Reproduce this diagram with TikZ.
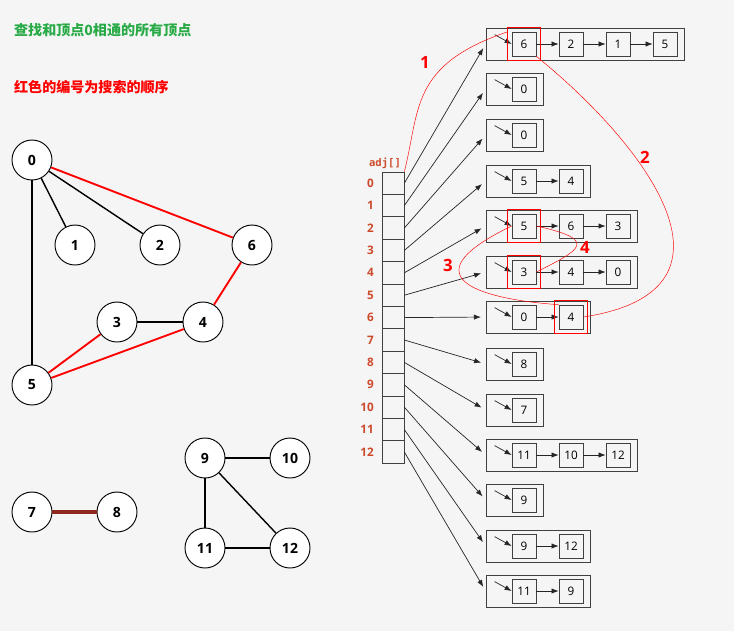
\documentclass[tikz,border=0pt]{standalone}
\usepackage{fontspec}
\setmainfont{Open Sans}
\newfontfamily\cjk{Noto Sans CJK SC}
\newfontfamily\mono{DejaVu Sans Mono}
\usetikzlibrary{arrows.meta}
\definecolor{titlegreen}{RGB}{40,170,70}
\definecolor{idxred}{RGB}{205,75,45}
\definecolor{edgebrown}{RGB}{140,40,30}
\tikzset{
  vertex/.style={shape=circle,draw=black,thick,fill=white,minimum size=1.2cm,inner sep=0pt,font=\large\bfseries},
  cell/.style={shape=rectangle,draw=black!75,semithick,minimum width=0.66cm,minimum height=0.672cm,inner sep=0pt},
  item/.style={shape=rectangle,draw=black!75,semithick,minimum width=0.72cm,minimum height=0.72cm,inner sep=0pt,font=\normalsize},
  bag/.style={shape=rectangle,draw=black!75,semithick,minimum height=0.96cm,inner sep=0pt},
  link/.style={-{Latex[length=6pt]},black!85,semithick},
  trail/.style={red,thin},
  order/.style={text=red,font=\Large\bfseries}
}
\begin{document}
\begin{tikzpicture}[x=0.03cm,y=-0.03cm]
\useasboundingbox[fill=black!4] (0,0) rectangle (734,631);
% titles
\node[anchor=west,text=titlegreen,font=\cjk\large\bfseries] (t1) at (10,30) {查找和顶点0相通的所有顶点};
\node[anchor=west,text=red,font=\cjk\large\bfseries] (t2) at (10,87) {红色的编号为搜索的顺序};
% graph
\node[vertex] (v0) at (32,160) {0};
\node[vertex] (v1) at (75,245) {1};
\node[vertex] (v2) at (160,245) {2};
\node[vertex] (v6) at (252,245) {6};
\node[vertex] (v3) at (117,322) {3};
\node[vertex] (v4) at (203,322) {4};
\node[vertex] (v5) at (32,385) {5};
\node[vertex] (v7) at (32,512) {7};
\node[vertex] (v8) at (117,512) {8};
\node[vertex] (v9) at (205,458) {9};
\node[vertex] (v10) at (290,458) {10};
\node[vertex] (v11) at (205,548) {11};
\node[vertex] (v12) at (290,548) {12};
\draw[very thick] (v0) -- (v1);
\draw[very thick] (v0) -- (v2);
\draw[very thick] (v0) -- (v5);
\draw[very thick] (v3) -- (v4);
\draw[very thick] (v9) -- (v10);
\draw[very thick] (v9) -- (v11);
\draw[very thick] (v9) -- (v12);
\draw[very thick] (v11) -- (v12);
\draw[red,line width=1.6pt] (v0) -- (v6);
\draw[red,line width=1.6pt] (v6) -- (v4);
\draw[red,line width=1.6pt] (v4) -- (v5);
\draw[red,line width=1.6pt] (v3) -- (v5);
\draw[edgebrown,line width=3.5pt] (v7) -- (v8);
% adjacency array
\node[text=idxred,font=\mono\small\bfseries] (adj) at (385,163) {adj[]};
\foreach \i in {0,...,12} {
  \node[cell] (a\i) at (393,{183.2+22.4*\i}) {};
  \node[text=idxred,font=\bfseries,anchor=east] (n\i) at (378,{183.2+22.4*\i}) {\i};
}
% lists
\foreach \r/\y/\n/\lst in {0/44/4/{6,2,1,5},1/89/1/{0},2/135/1/{0},3/181/2/{5,4},
    4/226/3/{5,6,3},5/272/3/{3,4,0},6/317/2/{0,4},7/364/1/{8},8/410/1/{7},
    9/455/3/{11,10,12},10/500/1/{9},11/546/2/{9,12},12/591/2/{11,9}} {
  \node[bag,minimum width={(10+47*\n)*0.03cm}] (row\r) at ({486+(10+47*\n)/2},\y) {};
  \foreach \v [count=\k] in \lst {
    \node[item] (l-\r-\k) at ({524+47*(\k-1)},\y) {\v};
    \ifnum\k>1
      \pgfmathtruncatemacro\p{\k-1}
      \draw[link] (l-\r-\p) -- (l-\r-\k);
    \fi
  }
  \coordinate (s\r) at ([shift={(9,7)}]row\r.north west);
  \draw[link] (s\r) -- (l-\r-1.west);
  \draw[link,shorten >=4pt] (a\r.east) -- (row\r.west);
}
% search order
\draw[red] ([shift={(-4,-4)}]l-0-1.north west) rectangle ([shift={(4,4)}]l-0-1.south east);
\draw[red] ([shift={(-4,-4)}]l-4-1.north west) rectangle ([shift={(4,4)}]l-4-1.south east);
\draw[red] ([shift={(-4,-4)}]l-5-1.north west) rectangle ([shift={(4,4)}]l-5-1.south east);
\draw[red] ([shift={(-4,-4)}]l-6-2.north west) rectangle ([shift={(4,4)}]l-6-2.south east);
\draw[trail] (a0.north east) .. controls (420,110) and (410,65) .. (507,32);
\draw[trail] (l-0-1.south east) .. controls (640,140) and (760,290) .. (l-6-2.east);
\draw[trail] (l-6-2.north west) .. controls (490,300) and (400,280) .. (l-4-1.west);
\draw[trail] (l-4-1.east) .. controls (600,240) and (580,250) .. (l-5-1.east);
\node[order] (m1) at (425,62) {1};
\node[order] (m2) at (645,157) {2};
\node[order] (m3) at (448,265) {3};
\node[order] (m4) at (585,247) {4};
\end{tikzpicture}
\end{document}
